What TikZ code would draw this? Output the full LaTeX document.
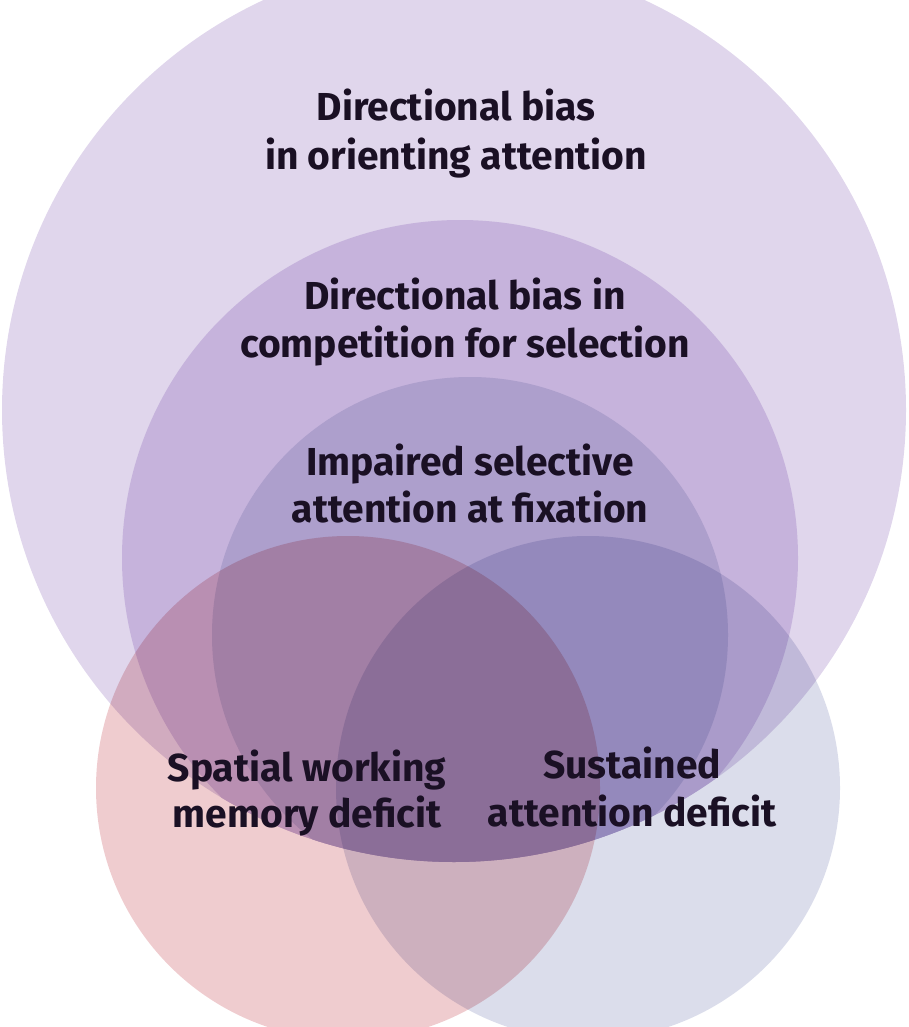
\documentclass[tikz,border=0pt]{standalone}
\usepackage{fontspec}
\setmainfont{Fira Sans}
\definecolor{cBig}{HTML}{E0D6EC}
\definecolor{cMid}{HTML}{C6B3DC}
\definecolor{cInn}{HTML}{AD9FCC}
\definecolor{cRed}{HTML}{EFCCCF}
\definecolor{cBlu}{HTML}{DBDDEB}
\definecolor{txt}{HTML}{1A1024}
\begin{document}
\begin{tikzpicture}[x=1pt,y=-1pt,
  lbl/.style={font=\fontsize{39}{47}\selectfont\bfseries, text=txt, inner sep=0pt, anchor=base}]
\useasboundingbox (0,0) rectangle (908,1027);
\begin{scope}
\clip (0,0) rectangle (908,1027);
\fill[cBig] (454,410) circle[radius=452];
\begin{scope}
\clip (454,410) circle[radius=452];
\fill[cMid] (460,558) circle[radius=338];
\fill[cInn] (470,635) circle[radius=258];
\end{scope}
\begin{scope}[blend mode=multiply]
\fill[cRed] (348,788) circle[radius=252];
\fill[cBlu] (588,788) circle[radius=252];
\end{scope}
\end{scope}
\node[lbl] (t1a) at (456,121) {Directional bias};
\node[lbl] (t1b) at (456,170) {in orienting attention};
\node[lbl] (t2a) at (465,309) {Directional bias in};
\node[lbl] (t2b) at (465,357) {competition for selection};
\node[lbl] (t3a) at (470,475) {Impaired selective};
\node[lbl] (t3b) at (470,522) {attention at fixation};
\node[lbl] (t4a) at (307,781) {Spatial working};
\node[lbl] (t4b) at (307,827) {memory deficit};
\node[lbl] (t5a) at (632,778) {Sustained};
\node[lbl] (t5b) at (632,826) {attention deficit};
\end{tikzpicture}
\end{document}
